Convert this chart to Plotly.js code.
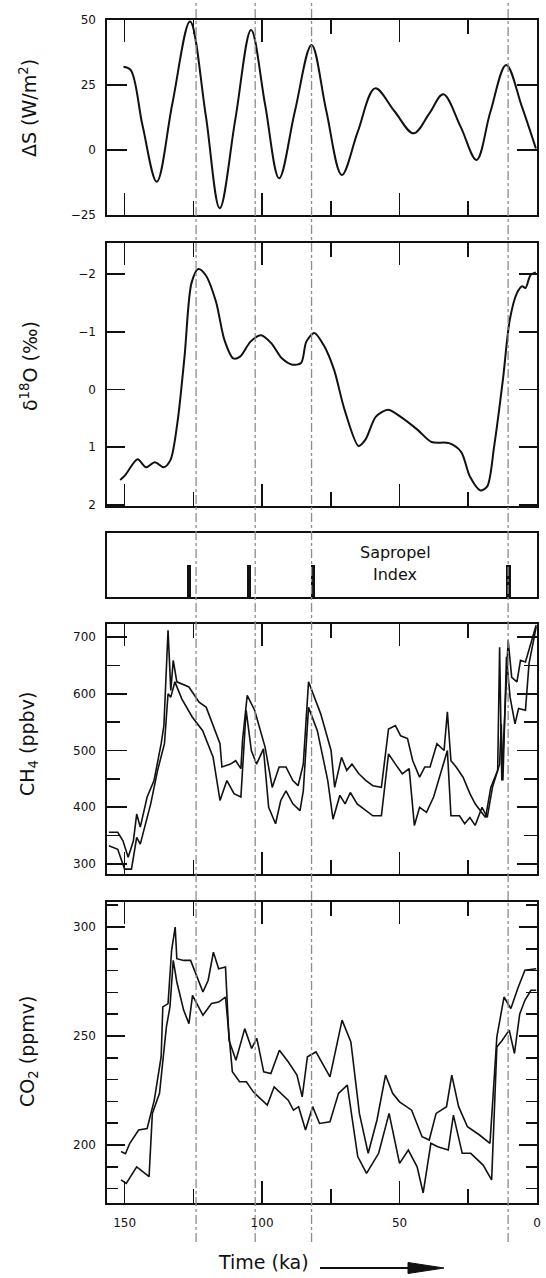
<!DOCTYPE html>
<html><head><meta charset="utf-8">
<script src="https://cdn.plot.ly/plotly-3.0.1.min.js"></script>
<style>html,body{margin:0;padding:0;background:#fff;} #chart{width:546px;height:1278px;}</style>
</head><body><div id="chart"></div>
<script>
// ---------- data (ages in ka) ----------
const ageDS = [150.4,147.8,143.4,138.3,132.6,126.2,120.5,115.4,109.7,104,98.9,93.8,88.1,82,76.7,71,65.2,58.9,51.9,44.9,39.2,34.1,27.8,22,17,11.2,5.5,0.4];
const dS    = [32,30.8,9,-12.2,18,49.4,13.5,-22.4,12,46.2,17.5,-10.9,14.7,40.4,15.4,-9.6,7,23.7,15,6.4,14,21.4,9,-3.8,14.5,32.7,16.7,0.6];

const ageO18 = [151.6,149.7,145.3,142.2,139,135.8,133.3,130.8,128.2,125.7,123.2,120.6,116.8,113.7,110.5,108,104.2,100.4,96.6,92.8,89,85.8,83.9,81,77.6,73.8,70,64.9,62.4,58.6,54.2,49.7,43.4,38.4,32,27.6,24.4,20.6,18.1,15.6,12.4,9.9,7.3,5.4,4.2,2.3,0.4];
const d18O   = [1.57,1.48,1.21,1.35,1.26,1.35,1.22,0.58,-0.57,-1.84,-2.09,-1.99,-1.53,-0.86,-0.54,-0.57,-0.83,-0.94,-0.8,-0.54,-0.43,-0.46,-0.83,-0.98,-0.77,-0.34,0.35,0.98,0.87,0.47,0.35,0.47,0.7,0.91,0.93,1.08,1.51,1.75,1.68,0.99,-0.17,-1.21,-1.67,-1.79,-1.76,-1.99,-2.03];

const sapropelAge   = [126.5,104.8,81.5,10.3];
const sapropelIndex = [0.5,0.5,0.5,0.5];
const sapropelLines = [124,102.5,82,10.5];

const ageCH4a = [155.7,152.5,150.6,148.7,146.8,145.6,144.3,141.8,139.3,136.7,135.7,134.2,133.2,132.3,131,126.6,122.9,120.3,115.3,114.6,111.5,109.6,107.7,107.1,105.4,102.7,98.9,96.3,93.8,91.3,88.8,86.9,85,83.1,78.7,74.9,73.6,71.1,69.2,67.3,64.8,62.2,59.7,56.6,54,51.5,49.6,47.1,45.2,42.7,40.8,38.9,36.4,33.8,32.6,31.3,29.4,26.9,24.4,22.5,20.6,18.7,16.8,14.3,13.6,12.8,10.5,9.2,7.3,6,4.2,0.3];
const ch4a    = [356,356,341,312,341,388,365,418,447,512,544,712,606,659,621,612,585,576,512,471,476,482,468,518,597,571,506,435,471,471,447,438,476,621,565,500,435,488,465,476,459,447,438,435,538,544,526,521,482,453,471,471,512,500,568,482,471,453,424,406,394,382,435,465,682,447,694,629,621,659,656,721];
const ageCH4b = [155.7,152.5,150,147.5,145.6,144.3,140.5,138,135.5,134.2,133.2,131.7,129.2,125.4,121.6,117.8,115.3,112.8,110.2,107.7,105.8,103.9,102,99.5,97.6,95.1,93.2,91.3,88.8,86.2,85,83.1,79.9,76.1,74.2,71.7,69.8,67.9,65.4,62.2,59.7,56.6,54,51.5,49,46.5,44.6,42.7,40.2,37.6,35.1,32.6,31.3,28.2,26.3,24.4,22.5,20,18.1,16.2,13.6,13,12.4,11.1,9.8,8,6.7,4.2,2.9,0.3];
const ch4b    = [332,326,291,291,347,335,406,465,512,600,594,621,591,559,535,488,412,447,424,418,571,500,476,503,400,371,412,429,406,394,429,576,535,447,379,421,406,426,406,394,385,385,494,476,459,468,368,400,391,418,459,500,385,385,371,382,368,400,382,435,476,547,447,665,594,547,574,571,653,718];

const ageCO2a = [151.3,149.7,148.1,144.9,141.8,139.2,136.7,136.1,134.2,132.9,131.6,131,128.5,126,121.5,119.6,117.7,115.8,113.3,112,109.5,106.3,103.8,101.9,99.4,96.8,93.7,90.5,87.3,85.4,83.5,80.4,75.3,70.9,67.7,64.6,61.4,58.2,55.1,52.5,50,45.6,41.8,39.2,36.7,32.9,31,28.5,25.3,20.9,17.1,14.6,12,9.5,7,4.4,0.3];
const co2a    = [197,196,200.8,206.9,207.6,220.6,240.5,263.4,264.9,289.3,300,285.5,284.7,284.7,270.2,275.6,288.5,280.9,281.7,248,238.9,253.4,244.3,248.9,233.6,232.8,243.5,238.2,232.1,222.1,240.5,242.7,231.3,257.3,247.3,214.5,196.2,211.5,232.1,223.7,219.8,216,203.8,202.3,214.5,217.6,232.1,217.6,208.4,204.6,200.8,249.6,267.9,262.6,271.8,280.2,280.9];
const ageCO2b = [151.3,149.4,145.6,141.1,139.9,137.3,134.8,133.5,132.3,131,128.5,126.6,125.3,121.5,118.4,115.8,113.3,110.8,108.2,105.7,103.2,98.1,95.6,93,90.5,88.6,86.7,84.2,81.6,79.1,75.3,72.2,69,65.2,62,57.6,53.8,50,46.8,43.6,41.4,38.6,36.1,32.3,30.4,27.2,24.1,19.6,16.5,14.6,12.7,10.1,8.2,6.3,4.4,2.2,0.3];
const co2b    = [184,182.4,190,185.5,214.5,223.7,254.2,263.4,284.7,274.8,261.8,255.7,268.7,259.5,264.9,265.6,267.9,233.6,229,229,224.4,218.3,226.7,223.7,220.6,216,217.6,206.9,217.6,209.9,210.7,223.7,227.5,194.7,187,196.2,214.5,191.6,197.7,190,178,200.8,199.2,197.7,213.7,196.2,196.2,190.8,184,245,248,252.7,242,260,266.4,271,271];

const xTickValues = [150,100,50,0];

// ---------- layout helpers ----------
const W = 546, H = 1278;
const px = v => v / W;
const py = v => 1 - v / H;
const FONT = '"DejaVu Sans", sans-serif';
const INK = '#111';
const xDom = [px(107), px(537)];
const xRange = [156.4, 0];

function xAxis(anchor, labels, ticks) {
  const a = {
    domain: xDom, range: xRange, anchor: anchor,
    showline: true, linecolor: INK, linewidth: 1.6, mirror: ticks ? 'ticks' : true,
    showgrid: false, zeroline: false, fixedrange: true,
    showticklabels: labels,
    tickfont: {family: FONT, size: 12, color: INK},
    ticklabelstandoff: 8
  };
  if (ticks) {
    Object.assign(a, {
      tickmode: 'array', tickvals: xTickValues, ticks: 'inside', ticklen: 22, tickwidth: 1.6, tickcolor: INK,
      minor: {tickmode: 'linear', dtick: 25, tick0: 0, ticks: 'inside', ticklen: 14, tickwidth: 1.6, tickcolor: INK}
    });
  } else {
    a.ticks = '';
  }
  return a;
}
function yAxis(anchor, dom, range, extra) {
  return Object.assign({
    domain: dom, range: range, anchor: anchor,
    showline: true, linecolor: INK, linewidth: 1.6, mirror: 'ticks',
    ticks: 'inside', ticklen: 20, tickwidth: 1.6, tickcolor: INK,
    showgrid: false, zeroline: false, fixedrange: true,
    tickfont: {family: FONT, size: 12, color: INK},
    ticklabelstandoff: 7
  }, extra || {});
}

const line = w => ({color: INK, width: w});
const traces = [
  {type: 'scatter', mode: 'lines', x: ageDS, y: dS, xaxis: 'x', yaxis: 'y', line: Object.assign(line(2), {shape: 'spline', smoothing: 1})},
  {type: 'scatter', mode: 'lines', x: ageO18, y: d18O, xaxis: 'x2', yaxis: 'y2', line: Object.assign(line(2), {shape: 'spline', smoothing: 0.8})},
  {type: 'bar', x: sapropelAge, y: sapropelIndex, width: 1.6, xaxis: 'x3', yaxis: 'y3', marker: {color: INK, line: {width: 0}}},
  {type: 'scatter', mode: 'lines', x: ageCH4a, y: ch4a, xaxis: 'x4', yaxis: 'y4', line: line(1.6)},
  {type: 'scatter', mode: 'lines', x: ageCH4b, y: ch4b, xaxis: 'x4', yaxis: 'y4', line: line(1.6)},
  {type: 'scatter', mode: 'lines', x: ageCO2a, y: co2a, xaxis: 'x5', yaxis: 'y5', line: line(1.6)},
  {type: 'scatter', mode: 'lines', x: ageCO2b, y: co2b, xaxis: 'x5', yaxis: 'y5', line: line(1.6)}
];

const shapes = sapropelLines.map(a => ({
  type: 'line', xref: 'x5', yref: 'paper', x0: a, x1: a, y0: py(1242), y1: 1,
  line: {color: '#8c8c8c', width: 1.3, dash: 'dashdot'}, layer: 'above'
}));
// arrow next to the time label
shapes.push({type: 'line', xref: 'paper', yref: 'paper', x0: px(320), x1: px(415), y0: py(1268), y1: py(1268), line: {color: INK, width: 2.2}});
shapes.push({type: 'path', xref: 'paper', yref: 'paper',
  path: `M ${px(408)} ${py(1262.5)} L ${px(444)} ${py(1268)} L ${px(408)} ${py(1273.5)} Z`,
  fillcolor: INK, line: {color: INK, width: 1}});

const ann = (text, x, y, size, angle) => ({
  xref: 'paper', yref: 'paper', x: px(x), y: py(y), text: text, showarrow: false,
  textangle: angle || 0, xanchor: 'center', yanchor: 'middle',
  font: {family: FONT, size: size, color: INK}
});

const layout = {
  width: W, height: H, margin: {l: 0, r: 0, t: 0, b: 0},
  paper_bgcolor: '#fff', plot_bgcolor: 'rgba(0,0,0,0)',
  showlegend: false, hovermode: false, bargap: 0,
  xaxis: xAxis('y', false, true),
  xaxis2: xAxis('y2', false, true),
  xaxis3: xAxis('y3', false, false),
  xaxis4: xAxis('y4', false, true),
  xaxis5: xAxis('y5', true, true),
  yaxis: yAxis('x', [py(215), py(20)], [-25, 50], {tickmode: 'array', tickvals: [-25, 0, 25, 50]}),
  yaxis2: yAxis('x2', [py(506), py(243)], [2.02, -2.54], {tickmode: 'array', tickvals: [-2, -1, 0, 1, 2], ticklen: 18}),
  yaxis3: yAxis('x3', [py(597), py(533)], [0, 1], {ticks: '', showticklabels: false, mirror: true}),
  yaxis4: yAxis('x4', [py(874), py(624)], [282.4, 722.9], {tickmode: 'linear', dtick: 100, tick0: 0,
    minor: {tickmode: 'linear', dtick: 50, tick0: 0, ticks: 'inside', ticklen: 13, tickwidth: 1.6, tickcolor: INK}}),
  yaxis5: yAxis('x5', [py(1203), py(902)], [173.4, 311.5], {tickmode: 'linear', dtick: 50, tick0: 0, ticklen: 18,
    minor: {tickmode: 'linear', dtick: 10, tick0: 0, ticks: 'inside', ticklen: 11, tickwidth: 1.6, tickcolor: INK}}),
  shapes: shapes,
  annotations: [
    ann('ΔS (W/m<sup>2</sup>)', 28, 108, 19, -90),
    ann('δ<sup>18</sup>O (‰)', 29, 366, 19, -90),
    ann('CH<sub>4</sub> (ppbv)', 28, 744, 19, -90),
    ann('CO<sub>2</sub> (ppmv)', 28, 1052, 19, -90),
    ann('Sapropel', 395, 553, 16),
    ann('Index', 395, 574, 16),
    ann('Time (ka)', 263, 1262, 19)
  ]
};

Plotly.newPlot('chart', traces, layout, {staticPlot: true, displayModeBar: false});
</script>
</body></html>
